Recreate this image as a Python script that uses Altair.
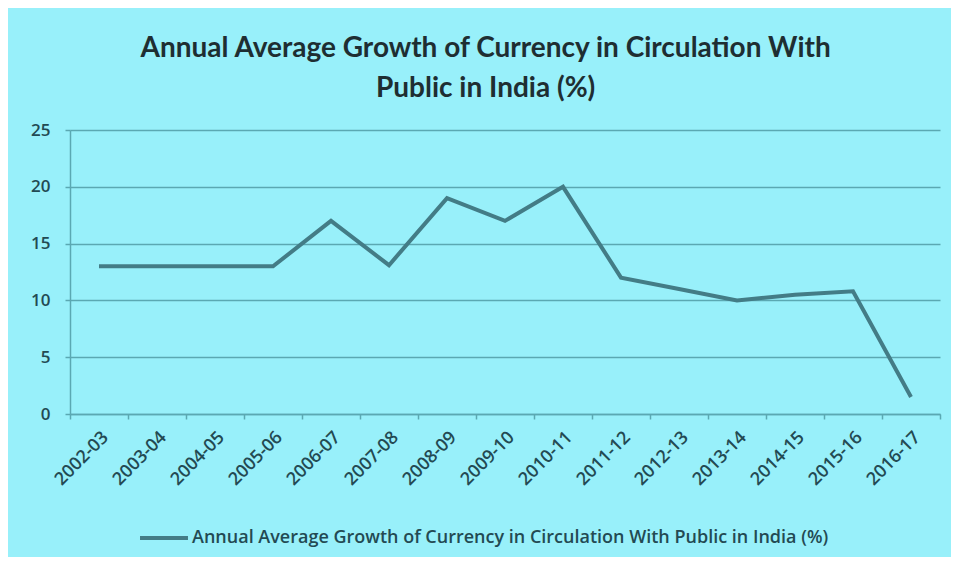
import altair as alt
import pandas as pd

years = ["2002-03", "2003-04", "2004-05", "2005-06", "2006-07", "2007-08",
         "2008-09", "2009-10", "2010-11", "2011-12", "2012-13", "2013-14",
         "2014-15", "2015-16", "2016-17"]
growth = [13, 13, 13, 13, 17, 13.1, 19, 17, 20, 12, 11, 10, 10.5, 10.8, 1.5]
series_name = "Annual Average Growth of Currency in Circulation With Public in India (%)"

df = pd.DataFrame({"year": years, "growth": growth, "series": [series_name] * len(years)})

BG = "#98F0FA"
LINE = "#437C86"
GRID = "#5BA8B2"
TEXT = "#234A53"

chart = alt.Chart(df).mark_line(strokeWidth=4, strokeJoin="miter").encode(
    x=alt.X("year:N", sort=years,
            scale=alt.Scale(paddingInner=0, paddingOuter=0),
            axis=alt.Axis(title=None, labelAngle=-45, tickBand="extent",
                          labelFontSize=18, labelColor=TEXT, labelFont="Open Sans",
                          labelFontWeight=600,
                          labelPadding=9, tickSize=5, tickColor=GRID, domainColor=GRID,
                          domainWidth=1.5, tickWidth=1.5, grid=False)),
    y=alt.Y("growth:Q", scale=alt.Scale(domain=[0, 25]),
            axis=alt.Axis(title=None, values=[0, 5, 10, 15, 20, 25], labelFontSize=17,
                          labelColor=TEXT, labelFont="Open Sans", labelFontWeight=600,
                          labelPadding=15,
                          tickSize=5, tickColor=GRID, domainColor=GRID, domainWidth=1.5,
                          tickWidth=1.5, gridColor=GRID, gridWidth=1.5, gridOpacity=1)),
    color=alt.Color("series:N", scale=alt.Scale(range=[LINE]),
                    legend=alt.Legend(title=None, orient="none", legendX=68, legendY=382,
                                      symbolType="stroke",
                                      symbolStrokeWidth=4, symbolSize=2300,
                                      labelOffset=2,
                                      labelFontSize=18, labelColor=TEXT,
                                      labelFontWeight=600,
                                      labelFont="Open Sans", labelLimit=900)),
).properties(
    width=870,
    height=284,
    autosize=alt.AutoSizeParams(type="none"),
    title=alt.Title(["Annual Average Growth of Currency in Circulation With",
                     "Public in India (%)"],
                    anchor="middle", frame="bounds", fontSize=28, font="Lato",
                    fontWeight="bold", color="#1E2E32", lineHeight=40, offset=18),
    padding={"left": 62, "top": 122, "right": 11, "bottom": 143},
    background=BG,
).configure_view(stroke=None)

chart.save("out.html", embed_options={"renderer": "svg", "actions": False})
